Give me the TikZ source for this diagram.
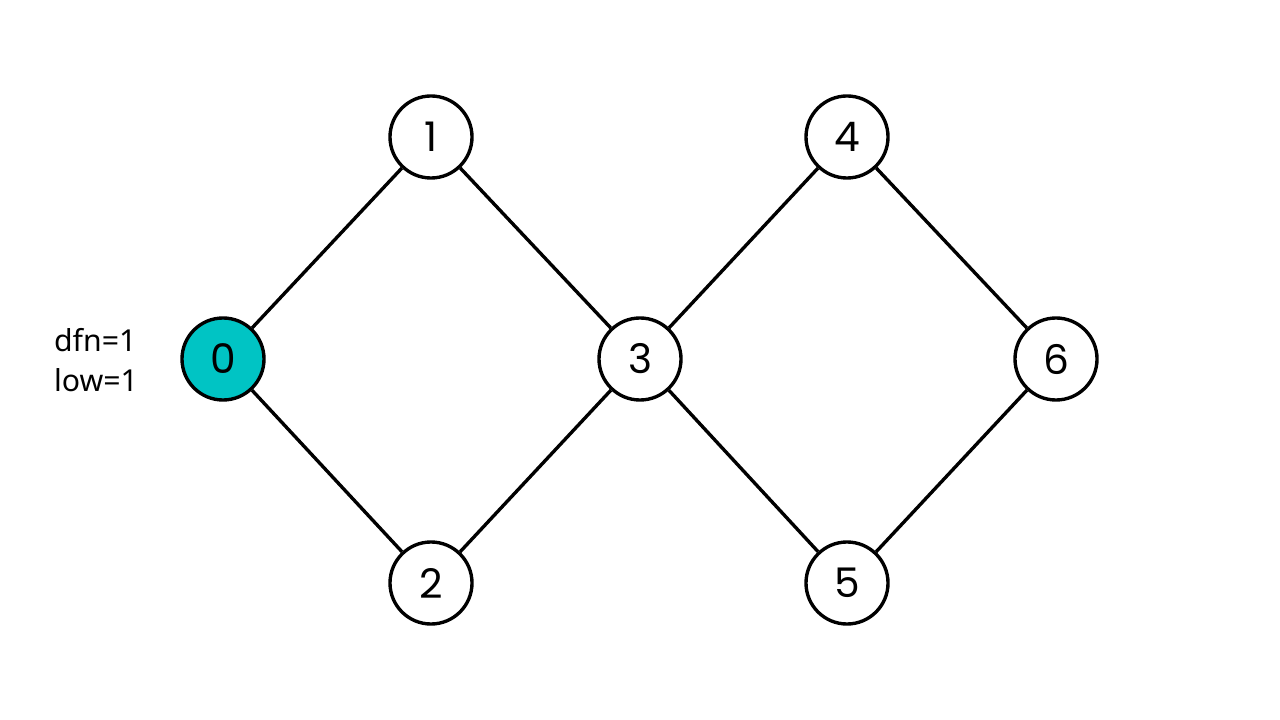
\documentclass[tikz,border=0pt]{standalone}
\usepackage{fontspec}
\setmainfont{Poppins}
\newfontfamily\labelfont{Noto Sans}
\usepackage{tikz}
\usetikzlibrary{arrows}
\definecolor{visited}{RGB}{0,196,196}

\begin{document}
\begin{tikzpicture}[x=0.025cm,y=-0.025cm,line width=2.4pt,main node/.style={circle,draw,fill=white,minimum size=2.05cm,inner sep=0pt,font=\fontsize{29}{30}\selectfont},note/.style={font=\labelfont\fontsize{21.5}{28}\selectfont,align=left}]
		\useasboundingbox (0,0) rectangle (1280,720);
		\node[main node,fill=visited] (0) at (223,359) {0};
		\node[main node] (1) at (431,137) {1};
		\node[main node] (2) at (431,583) {2};
		\node[main node] (3) at (640,359) {3};
		\node[main node] (4) at (847,137) {4};
		\node[main node] (5) at (847,583) {5};
		\node[main node] (6) at (1056,359) {6};
		\node[note] (info) at (96,360) {dfn=1\\low=1};
		\path
		(0) edge (1)
		edge (2)
		(3) edge (1)
		edge (2)
		edge (4)
		edge (5)
		(6) edge (4)
		edge (5);
		\end{tikzpicture}
\end{document}
